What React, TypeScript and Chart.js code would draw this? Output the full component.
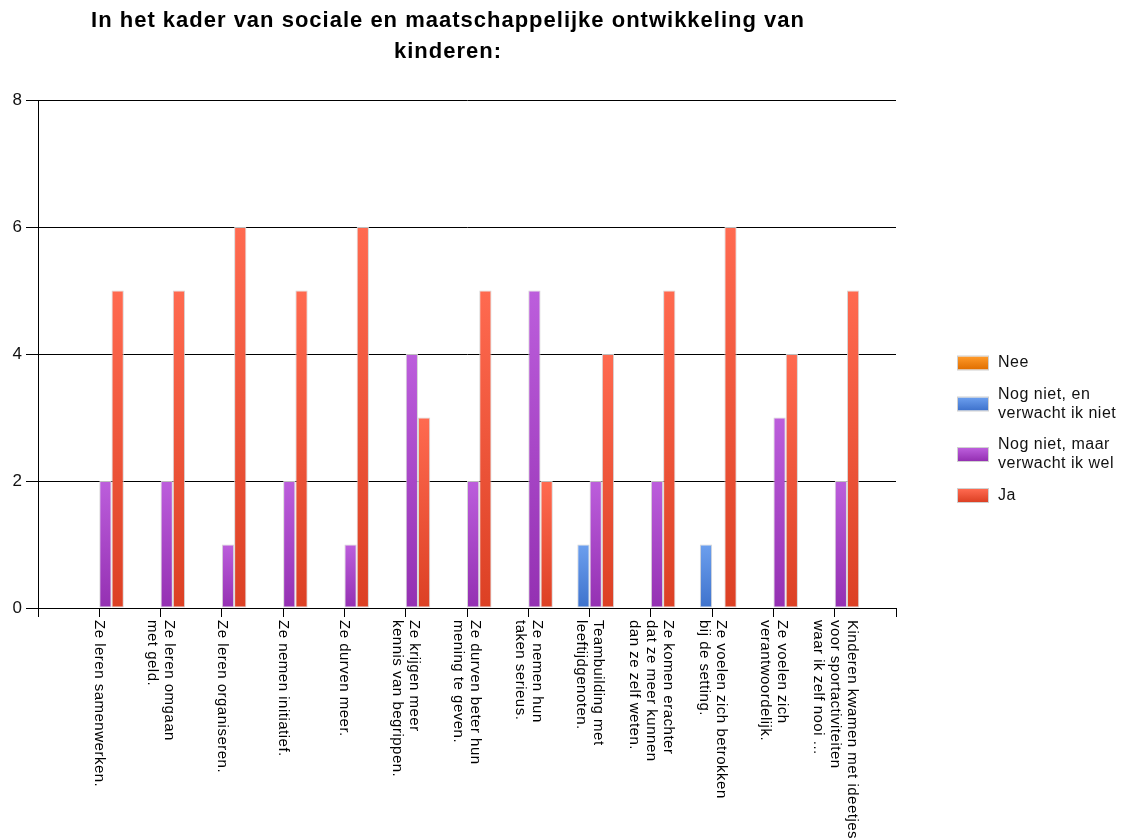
import React, { useEffect, useRef } from 'react';
import { Chart, registerables } from 'chart.js';

Chart.register(...registerables);

const chartTitle = ['In het kader van sociale en maatschappelijke ontwikkeling van', 'kinderen:'];

const categories: string[][] = [
  ['Ze leren samenwerken.'],
  ['Ze leren omgaan', 'met geld.'],
  ['Ze leren organiseren.'],
  ['Ze nemen initiatief.'],
  ['Ze durven meer.'],
  ['Ze krijgen meer', 'kennis van begrippen.'],
  ['Ze durven beter hun', 'mening te geven.'],
  ['Ze nemen hun', 'taken serieus.'],
  ['Teambuilding met', 'leeftijdgenoten.'],
  ['Ze komen erachter', 'dat ze meer kunnen', 'dan ze zelf weten.'],
  ['Ze voelen zich betrokken', 'bij de setting.'],
  ['Ze voelen zich', 'verantwoordelijk.'],
  ['Kinderen kwamen met ideetjes', 'voor sportactiviteiten', 'waar ik zelf nooi ...'],
];

const seriesNames = ['Nee', 'Nog niet, en verwacht ik niet', 'Nog niet, maar verwacht ik wel', 'Ja'];
const legendLines: string[][] = [['Nee'], ['Nog niet, en', 'verwacht ik niet'], ['Nog niet, maar', 'verwacht ik wel'], ['Ja']];

const neeValues = [0, 0, 0, 0, 0, 0, 0, 0, 0, 0, 0, 0, 0];
const nogNietVerwachtNietValues = [0, 0, 0, 0, 0, 0, 0, 0, 1, 0, 1, 0, 0];
const nogNietVerwachtWelValues = [2, 2, 1, 2, 1, 4, 2, 5, 2, 2, 0, 3, 2];
const jaValues = [5, 5, 6, 5, 6, 3, 5, 2, 4, 5, 6, 4, 5];

const yMin = 0;
const yMax = 8;
const yStep = 2;

const FONT = '"Liberation Sans", Arial, sans-serif';

const seriesStyles = [
  { top: '#FF9A2A', bottom: '#E06E00', flat: '#EF7F00' },
  { top: '#6C9FEE', bottom: '#3E72CC', flat: '#5A8FE0' },
  { top: '#BC5EDC', bottom: '#9430B2', flat: '#A43FC0' },
  { top: '#FF6A50', bottom: '#DC4024', flat: '#EE5338' },
];

function setSpacing(ctx: any, px: number) {
  if ('letterSpacing' in ctx) ctx.letterSpacing = px + 'px';
}

const decorPlugin = {
  id: 'decor',
  afterDraw(chart: any) {
    const { ctx, chartArea, scales } = chart;
    const xs = scales.x;
    ctx.save();

    // Title
    ctx.fillStyle = '#000';
    ctx.font = `bold 22px ${FONT}`;
    setSpacing(ctx, 1);
    ctx.textAlign = 'center';
    ctx.textBaseline = 'alphabetic';
    const cx = chartArea.right / 2;
    chartTitle.forEach((line, i) => ctx.fillText(line, cx, 27 + i * 31));

    // Rotated category labels
    ctx.font = `15px ${FONT}`;
    setSpacing(ctx, 0.5);
    ctx.textAlign = 'left';
    ctx.textBaseline = 'middle';
    ctx.fillStyle = '#000';
    categories.forEach((lines, i) => {
      const px = xs.getPixelForValue(i + 1);
      ctx.save();
      ctx.translate(px, chartArea.bottom + 12);
      ctx.rotate(Math.PI / 2);
      lines.forEach((t, j) => ctx.fillText(t, 0, (j - (lines.length - 1) / 2) * 17));
      ctx.restore();
    });

    // Legend
    ctx.font = `16px ${FONT}`;
    setSpacing(ctx, 0.5);
    ctx.textAlign = 'left';
    ctx.textBaseline = 'middle';
    const boxX = chartArea.right + 62;
    const textX = boxX + 40;
    let cy = chartArea.top + 253.5;
    legendLines.forEach((lines, k) => {
      const h = lines.length * 19;
      const mid = cy + h / 2;
      const st = seriesStyles[k];
      const g = ctx.createLinearGradient(0, mid - 6.5, 0, mid + 6.5);
      g.addColorStop(0, st.top);
      g.addColorStop(1, st.bottom);
      ctx.fillStyle = g;
      ctx.fillRect(boxX, mid - 6.5, 30, 13);
      ctx.strokeStyle = '#d0d0d0';
      ctx.lineWidth = 1;
      ctx.strokeRect(boxX - 0.5, mid - 7, 31, 14);
      ctx.fillStyle = '#111';
      lines.forEach((t, j) => ctx.fillText(t, textX, cy + 9.5 + j * 19));
      cy += h + 12.5;
    });

    ctx.restore();
  },
};

export default function App() {
  const canvasRef = useRef<HTMLCanvasElement | null>(null);

  useEffect(() => {
    const canvas = canvasRef.current;
    if (!canvas) return;

    const labels = ['', ...categories.map((l) => l.join(' ')), ''];
    const pad = (arr: number[]) => [null, ...arr, null];
    const allSeries = [neeValues, nogNietVerwachtNietValues, nogNietVerwachtWelValues, jaValues];

    const datasets = allSeries.map((vals, k) => {
      const st = seriesStyles[k];
      return {
        label: seriesNames[k],
        data: pad(vals),
        backgroundColor: (c: any) => {
          const ch = c.chart;
          const area = ch.chartArea;
          if (!area || c.type !== 'data' || c.raw == null) return st.flat;
          const y = ch.scales.y;
          const top = y.getPixelForValue(c.raw);
          const base = y.getPixelForValue(0);
          if (!(base > top)) return st.flat;
          const g = ch.ctx.createLinearGradient(0, top, 0, base);
          g.addColorStop(0, st.top);
          g.addColorStop(1, st.bottom);
          return g;
        },
        borderColor: 'rgba(210,210,210,0.9)',
        borderWidth: 1,
        borderSkipped: false,
        inflateAmount: 0,
        categoryPercentage: 0.8,
        barPercentage: 1,
      };
    });

    const chart = new Chart(canvas, {
      type: 'bar',
      data: { labels, datasets: datasets as any },
      options: {
        responsive: true,
        maintainAspectRatio: false,
        animation: false,
        layout: { padding: { top: 100, right: 228, bottom: 0, left: 0 } },
        plugins: {
          legend: { display: false },
          title: { display: false },
          tooltip: { enabled: false },
        },
        scales: {
          x: {
            type: 'category',
            offset: false,
            grid: {
              display: true,
              offset: false,
              drawOnChartArea: false,
              drawTicks: true,
              tickLength: 9,
              tickColor: '#000',
              color: '#000',
            },
            border: { display: true, color: '#000', width: 1 },
            ticks: { display: false },
            afterFit: (scale: any) => {
              scale.height = 230;
            },
          },
          y: {
            min: yMin,
            max: yMax,
            grid: {
              color: '#000',
              tickColor: '#000',
              tickLength: 12,
              lineWidth: 1,
            },
            border: { display: true, color: '#000', width: 1 },
            ticks: {
              stepSize: yStep,
              color: '#111',
              padding: 4,
              font: { family: FONT, size: 17 },
            },
            afterFit: (scale: any) => {
              scale.width = 38;
            },
          },
        },
      },
      plugins: [decorPlugin],
    });

    return () => chart.destroy();
  }, []);

  return (
    <div style={{ position: 'fixed', left: 0, top: 0, width: 1124, height: 838, background: '#fff' }}>
      <canvas ref={canvasRef} />
    </div>
  );
}
